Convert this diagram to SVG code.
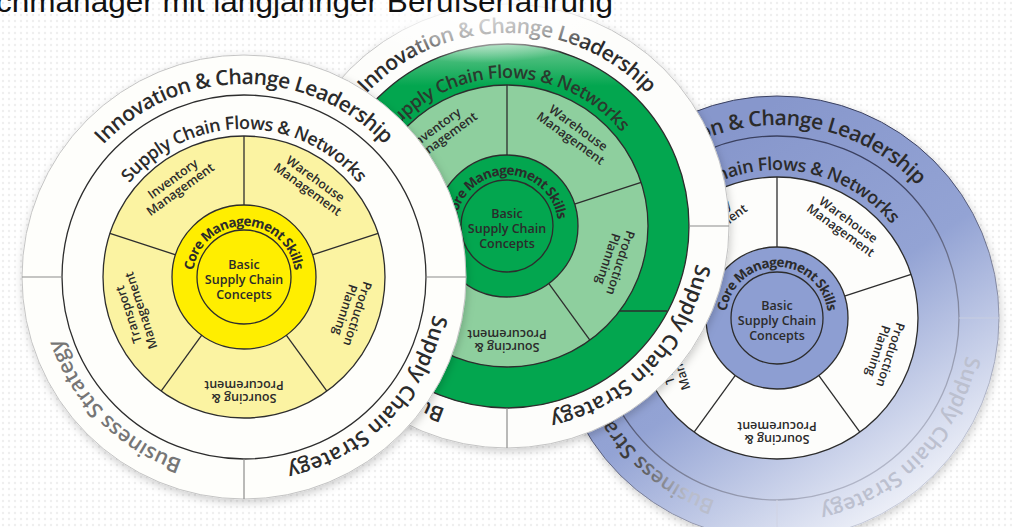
<svg xmlns="http://www.w3.org/2000/svg" width="1012" height="527" viewBox="0 0 1012 527">
<defs>
<style>
.edge{stroke:#bdbdbd;stroke-width:1}
.ln{fill:none;stroke:#2d2d2d;stroke-width:1.3}
.dv{stroke:#2d2d2d;stroke-width:1.3}
.od{stroke:#8c8c8c;stroke-width:1.2}
.t{font-family:"Open Sans","DejaVu Sans",sans-serif;font-weight:600;fill:#2b2b2b}
.to{font-size:21px}
.tf{font-size:18px}
.tc{font-size:13.5px;font-weight:700}
.tl{font-size:12.5px;text-anchor:middle}
.tm{font-size:12.5px;text-anchor:middle}
.mid{text-anchor:middle}
</style>
<path id="pO" d="M-193,0A193,193 0 1 1 193,0A193,193 0 1 1 -193,0"/>
<path id="pF" d="M-148,0A148,148 0 1 1 148,0A148,148 0 1 1 -148,0"/>
<path id="pC" d="M-51,0A51,51 0 1 1 51,0A51,51 0 1 1 -51,0"/>
<pattern id="dots" width="6" height="6" patternUnits="userSpaceOnUse"><circle cx="3" cy="3" r="1.2" fill="#cfcfcf"/></pattern>
<filter id="sh" x="-15%" y="-15%" width="130%" height="130%"><feDropShadow dx="1" dy="3" stdDeviation="4" flood-color="#000" flood-opacity="0.2"/></filter>
<linearGradient id="gB" gradientUnits="userSpaceOnUse" x1="-100" y1="-150" x2="150" y2="220">
<stop offset="0" stop-color="#8797cc"/><stop offset="0.45" stop-color="#93a3d4"/><stop offset="1" stop-color="#ffffff"/>
</linearGradient>
<linearGradient id="gBL" gradientUnits="userSpaceOnUse" x1="-100" y1="-150" x2="150" y2="220">
<stop offset="0.3" stop-color="#3a4060"/><stop offset="1" stop-color="#dde1ee"/>
</linearGradient>
<linearGradient id="gBT" gradientUnits="userSpaceOnUse" x1="-150" y1="0" x2="-90" y2="0">
<stop offset="0" stop-color="#3a3a3a"/><stop offset="1" stop-color="#b9bdcc"/>
</linearGradient>
<linearGradient id="gG" gradientUnits="userSpaceOnUse" x1="0" y1="-182" x2="0" y2="-140">
<stop offset="0" stop-color="#6cc891"/><stop offset="1" stop-color="#03a64f"/>
</linearGradient>
<radialGradient id="gFade" cx="0.5" cy="0.5" r="0.5">
<stop offset="0" stop-color="#fff" stop-opacity="0.9"/><stop offset="0.6" stop-color="#fff" stop-opacity="0.6"/><stop offset="1" stop-color="#fff" stop-opacity="0"/>
</radialGradient>
</defs>

<rect width="1012" height="527" fill="#ffffff"/>
<rect width="1012" height="527" fill="url(#dots)" opacity="0.35"/>

<!-- Blue wheel (back) -->
<g id="wheel-blue" transform="translate(777,318)">
<circle r="222" fill="url(#gB)" stroke="url(#gBL)" stroke-width="1" filter="url(#sh)"/>
<circle r="182" fill="url(#gB)" stroke="url(#gBL)" stroke-width="1.3"/>
<circle r="141" fill="#fdfdfb" stroke="#2d2d2d" stroke-width="1.3"/>
<line class="dv" x1="0" y1="-71" x2="0" y2="-141"/>
<line class="dv" x1="67.5" y1="-21.9" x2="134.1" y2="-43.6"/>
<line class="dv" x1="41.7" y1="57.4" x2="82.9" y2="114.1"/>
<line class="dv" x1="-41.7" y1="57.4" x2="-82.9" y2="114.1"/>
<line class="dv" x1="-67.5" y1="-21.9" x2="-134.1" y2="-43.6"/>
<circle r="71" fill="#8d9ed2" stroke="#2d2d2d" stroke-width="1.3"/>
<circle r="46" fill="#8d9ed2" stroke="#2d2d2d" stroke-width="1.3"/>
<line x1="182" y1="0" x2="222" y2="0" stroke="#c8cde0" stroke-width="1.2"/>
<line x1="-182" y1="0" x2="-222" y2="0" stroke="#8c8c8c" stroke-width="1.2"/>
<line x1="0" y1="182" x2="0" y2="222" stroke="#d0d4e4" stroke-width="1.2"/>
<text class="t to mid"><textPath href="#pO" startOffset="25%" textLength="315" lengthAdjust="spacing">Innovation &amp; Change Leadership</textPath></text>
<text class="t to mid" style="fill:#bcc0cf"><textPath href="#pO" startOffset="62.3%" textLength="222" lengthAdjust="spacing">Supply Chain Strategy</textPath></text>
<text class="t to mid" style="fill:url(#gBT)"><textPath href="#pO" startOffset="87.5%" textLength="178" lengthAdjust="spacing">Business Strategy</textPath></text>
<text class="t tf mid"><textPath href="#pF" startOffset="25%" textLength="262" lengthAdjust="spacing">Supply Chain Flows &amp; Networks</textPath></text>
<text class="t tc mid"><textPath href="#pC" startOffset="25%" textLength="147" lengthAdjust="spacing">Core Management Skills</textPath></text>
<text class="t tm"><tspan x="0" y="-8">Basic</tspan><tspan x="0" y="7">Supply Chain</tspan><tspan x="0" y="22">Concepts</tspan></text>
<g transform="rotate(-36) translate(0,-115)"><text class="t tl"><tspan x="0" y="-2">Inventory</tspan><tspan x="0" y="11">Management</tspan></text></g>
<g transform="rotate(36) translate(0,-115)"><text class="t tl"><tspan x="0" y="-2">Warehouse</tspan><tspan x="0" y="11">Management</tspan></text></g>
<g transform="rotate(108) translate(0,-113)"><text class="t tl"><tspan x="0" y="-2">Production</tspan><tspan x="0" y="11">Planning</tspan></text></g>
<g transform="rotate(180) translate(0,-115)"><text class="t tl"><tspan x="0" y="-2">Sourcing &amp;</tspan><tspan x="0" y="11">Procurement</tspan></text></g>
<g transform="rotate(252) translate(0,-115)"><text class="t tl"><tspan x="0" y="-2">Transport</tspan><tspan x="0" y="11">Management</tspan></text></g>
</g>

<!-- Green wheel (middle) -->
<g id="wheel-green" transform="translate(507,226)">
<circle r="222" fill="#fdfdfb" stroke="#c4c4c4" stroke-width="1" filter="url(#sh)"/>
<circle r="182" fill="url(#gG)" stroke="#2d2d2d" stroke-width="1.3"/>
<circle r="141" fill="#8ecf9e" stroke="#2d2d2d" stroke-width="1.3"/>
<line class="dv" x1="113" y1="85" x2="160" y2="85"/>
<line class="dv" x1="0" y1="-71" x2="0" y2="-141"/>
<line class="dv" x1="67.5" y1="-21.9" x2="134.1" y2="-43.6"/>
<line class="dv" x1="41.7" y1="57.4" x2="82.9" y2="114.1"/>
<line class="dv" x1="-41.7" y1="57.4" x2="-82.9" y2="114.1"/>
<line class="dv" x1="-67.5" y1="-21.9" x2="-134.1" y2="-43.6"/>
<circle r="71" fill="#03a64f" stroke="#2d2d2d" stroke-width="1.3"/>
<circle r="46" fill="#03a64f" stroke="#2d2d2d" stroke-width="1.3"/>
<line class="od" x1="182" y1="0" x2="222" y2="0"/>
<line class="od" x1="-182" y1="0" x2="-222" y2="0"/>
<line class="od" x1="0" y1="182" x2="0" y2="222"/>
<text class="t to mid"><textPath href="#pO" startOffset="25%" textLength="315" lengthAdjust="spacing">Innovation &amp; Change Leadership</textPath></text>
<text class="t to mid"><textPath href="#pO" startOffset="62.3%" textLength="222" lengthAdjust="spacing">Supply Chain Strategy</textPath></text>
<text class="t to mid"><textPath href="#pO" startOffset="87.5%" textLength="178" lengthAdjust="spacing">Business Strategy</textPath></text>
<text class="t tf mid" style="fill:#2a3a2e"><textPath href="#pF" startOffset="25%" textLength="262" lengthAdjust="spacing">Supply Chain Flows &amp; Networks</textPath></text>
<text class="t tc mid"><textPath href="#pC" startOffset="25%" textLength="147" lengthAdjust="spacing">Core Management Skills</textPath></text>
<text class="t tm"><tspan x="0" y="-8">Basic</tspan><tspan x="0" y="7">Supply Chain</tspan><tspan x="0" y="22">Concepts</tspan></text>
<g transform="rotate(-36) translate(0,-115)"><text class="t tl"><tspan x="0" y="-2">Inventory</tspan><tspan x="0" y="11">Management</tspan></text></g>
<g transform="rotate(36) translate(0,-115)"><text class="t tl"><tspan x="0" y="-2">Warehouse</tspan><tspan x="0" y="11">Management</tspan></text></g>
<g transform="rotate(108) translate(0,-113)"><text class="t tl"><tspan x="0" y="-2">Production</tspan><tspan x="0" y="11">Planning</tspan></text></g>
<g transform="rotate(180) translate(0,-115)"><text class="t tl"><tspan x="0" y="-2">Sourcing &amp;</tspan><tspan x="0" y="11">Procurement</tspan></text></g>
</g>

<!-- Yellow wheel (front) -->
<g id="wheel-yellow" transform="translate(244,277)">
<circle r="222" fill="#fefefb" stroke="#c4c4c4" stroke-width="1" filter="url(#sh)"/>
<circle r="182" fill="#fefefb" stroke="#2d2d2d" stroke-width="1.3"/>
<circle r="141" fill="#fbf3a2" stroke="#2d2d2d" stroke-width="1.3"/>
<line class="dv" x1="0" y1="-71" x2="0" y2="-141"/>
<line class="dv" x1="67.5" y1="-21.9" x2="134.1" y2="-43.6"/>
<line class="dv" x1="41.7" y1="57.4" x2="82.9" y2="114.1"/>
<line class="dv" x1="-41.7" y1="57.4" x2="-82.9" y2="114.1"/>
<line class="dv" x1="-67.5" y1="-21.9" x2="-134.1" y2="-43.6"/>
<circle r="72" fill="#ffee00" stroke="#2d2d2d" stroke-width="1.3"/>
<circle r="47" fill="#ffee00" stroke="#2d2d2d" stroke-width="1.3"/>
<line class="od" x1="182" y1="0" x2="222" y2="0"/>
<line class="od" x1="-182" y1="0" x2="-222" y2="0"/>
<line class="od" x1="0" y1="182" x2="0" y2="222"/>
<text class="t to mid"><textPath href="#pO" startOffset="25%" textLength="315" lengthAdjust="spacing">Innovation &amp; Change Leadership</textPath></text>
<text class="t to mid"><textPath href="#pO" startOffset="62.3%" textLength="222" lengthAdjust="spacing">Supply Chain Strategy</textPath></text>
<text class="t to mid" style="fill:#767676"><textPath href="#pO" startOffset="87.5%" textLength="178" lengthAdjust="spacing">Business Strategy</textPath></text>
<text class="t tf mid"><textPath href="#pF" startOffset="25%" textLength="262" lengthAdjust="spacing">Supply Chain Flows &amp; Networks</textPath></text>
<text class="t tc mid"><textPath href="#pC" startOffset="25%" textLength="147" lengthAdjust="spacing">Core Management Skills</textPath></text>
<text class="t tm"><tspan x="0" y="-8">Basic</tspan><tspan x="0" y="7">Supply Chain</tspan><tspan x="0" y="22">Concepts</tspan></text>
<g transform="rotate(-36) translate(0,-115)"><text class="t tl"><tspan x="0" y="-2">Inventory</tspan><tspan x="0" y="11">Management</tspan></text></g>
<g transform="rotate(36) translate(0,-115)"><text class="t tl"><tspan x="0" y="-2">Warehouse</tspan><tspan x="0" y="11">Management</tspan></text></g>
<g transform="rotate(108) translate(0,-113)"><text class="t tl"><tspan x="0" y="-2">Production</tspan><tspan x="0" y="11">Planning</tspan></text></g>
<g transform="rotate(180) translate(0,-115)"><text class="t tl"><tspan x="0" y="-2">Sourcing &amp;</tspan><tspan x="0" y="11">Procurement</tspan></text></g>
<g transform="rotate(252) translate(0,-115)"><text class="t tl"><tspan x="0" y="-2">Transport</tspan><tspan x="0" y="11">Management</tspan></text></g>
</g>

<ellipse cx="480" cy="8" rx="150" ry="55" fill="url(#gFade)"/>
<text x="-4" y="12" font-family="'Liberation Sans',Arial,sans-serif" font-size="30" fill="#111" textLength="617" lengthAdjust="spacingAndGlyphs">chmanager mit langjähriger Berufserfahrung</text>
</svg>
